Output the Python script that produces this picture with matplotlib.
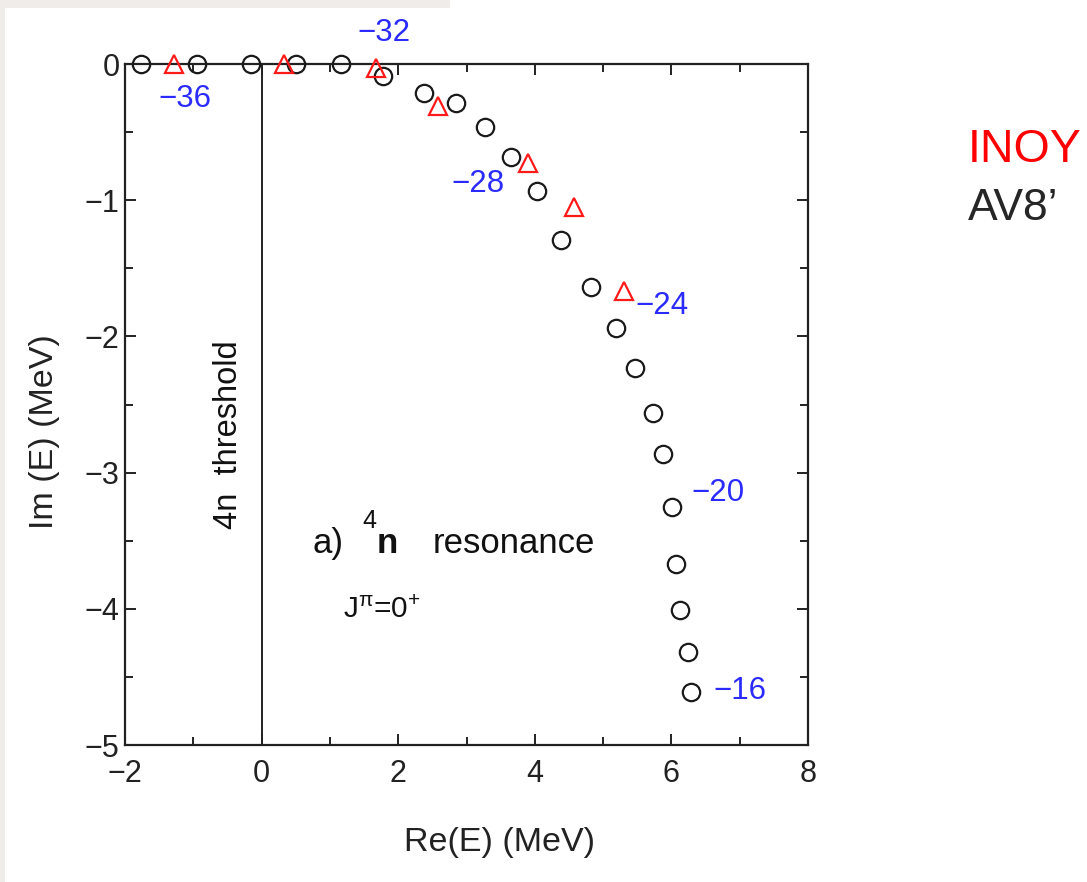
import matplotlib
matplotlib.use("Agg")
import matplotlib.pyplot as plt
from matplotlib.patches import Rectangle
from matplotlib.ticker import MultipleLocator

plt.rcParams['font.family'] = ['Liberation Sans', 'DejaVu Sans']
plt.rcParams['mathtext.fontset'] = 'custom'
plt.rcParams['mathtext.rm'] = 'Liberation Sans'
plt.rcParams['mathtext.it'] = 'Liberation Sans'
plt.rcParams['mathtext.bf'] = 'Liberation Sans:bold'

# AV8' results (black circles)
av8_re = [-1.77, -0.95, -0.16, 0.50, 1.16, 1.78, 2.38, 2.85, 3.27, 3.65, 4.03,
          4.38, 4.82, 5.19, 5.47, 5.73, 5.88, 6.01, 6.07, 6.13, 6.24, 6.29]
av8_im = [0.0, 0.0, 0.0, 0.0, 0.0, -0.09, -0.21, -0.29, -0.46, -0.68, -0.93,
          -1.29, -1.64, -1.94, -2.23, -2.56, -2.86, -3.25, -3.67, -4.01, -4.32, -4.61]

# INOY results (red triangles)
inoy_re = [-1.28, 0.33, 1.67, 2.59, 3.90, 4.57, 5.31]
inoy_im = [0.0, 0.0, -0.03, -0.31, -0.73, -1.05, -1.67]

# Strength labels
lab_text = ["\u221236", "\u221232", "\u221228", "\u221224", "\u221220", "\u221216"]
lab_x = [-1.12, 1.79, 3.17, 5.86, 6.68, 7.00]
lab_y = [-0.26, 0.23, -0.88, -1.78, -3.15, -4.60]

xticks = [-2, 0, 2, 4, 6, 8]
yticks = [0, -1, -2, -3, -4, -5]

fig = plt.figure(figsize=(10.87, 8.82), dpi=100)
# light gray background strips of the source screenshot
fig.patches.append(Rectangle((0, 0), 5 / 1087, 1, transform=fig.transFigure,
                             facecolor='#f0ecea', edgecolor='none', zorder=-10))
fig.patches.append(Rectangle((0, 1 - 8 / 882), 450 / 1087, 8 / 882, transform=fig.transFigure,
                             facecolor='#f0ecea', edgecolor='none', zorder=-10))

ax = fig.add_axes([125 / 1087, 1 - 745 / 882, 683 / 1087, 681 / 882])
ax.set_xlim(-2, 8)
ax.set_ylim(-5, 0)

ax.axvline(0, color='#222222', lw=1.4, zorder=1)

ax.plot(av8_re, av8_im, linestyle='none', marker='o', markersize=12.5,
        markerfacecolor='none', markeredgecolor='#1a1a1a', markeredgewidth=1.6,
        clip_on=False, zorder=3)
ax.plot(inoy_re, inoy_im, linestyle='none', marker='^', markersize=13,
        markerfacecolor='none', markeredgecolor='#ff1a1a', markeredgewidth=1.6,
        clip_on=False, zorder=4)

for t, x, y in zip(lab_text, lab_x, lab_y):
    ax.text(x, y, t, color='#2b2bff', fontsize=22.5, ha='center', va='center',
            clip_on=False)

ax.text(-0.49, -2.72, "4n  threshold", rotation=90, fontsize=23.5,
        ha='center', va='center', color='#111111')

ax.text(0.75, -3.59, "a)", fontsize=25, ha='left', va='baseline', color='#111111')
ax.text(1.47, -3.41, "4", fontsize=18, ha='left', va='baseline', color='#111111')
ax.text(1.69, -3.59, "n", fontsize=25, fontweight='bold', ha='left', va='baseline',
        color='#111111')
ax.text(2.50, -3.59, "resonance", fontsize=25, ha='left', va='baseline', color='#111111')
ax.text(1.19, -4.07, r"J$^{\pi}$=0$^{+}$", fontsize=21.5, ha='left', va='baseline',
        color='#111111')

ax.set_xticks(xticks)
ax.set_yticks(yticks)
ax.set_xticklabels([str(v).replace('-', '\u2212') for v in xticks])
ax.set_yticklabels([str(v).replace('-', '\u2212') for v in yticks])
ax.xaxis.set_minor_locator(MultipleLocator(1))
ax.yaxis.set_minor_locator(MultipleLocator(0.5))
ax.tick_params(which='both', direction='in', top=True, right=True,
               color='#222222', width=1.4)
ax.tick_params(which='major', length=8, labelsize=22, labelcolor='#222222')
ax.tick_params(which='minor', length=6)
ax.tick_params(axis='x', which='major', pad=10)
ax.tick_params(axis='y', which='major', pad=4)
for s in ax.spines.values():
    s.set_linewidth(1.6)
    s.set_color('#222222')

ax.set_xlabel("Re(E) (MeV)", fontsize=24.5, color='#222222')
ax.xaxis.label.set_va('center')
ax.xaxis.set_label_coords((499 - 125) / 683, (745 - 843) / 681)
ax.set_ylabel("Im (E) (MeV)", fontsize=24.5, color='#222222')
ax.yaxis.label.set_va('center')
ax.yaxis.set_label_coords((45 - 125) / 683, (745 - 432) / 681)

fig.text(968 / 1087, 1 - 150 / 882, "INOY", color='#ff0000', fontsize=33.5,
         ha='left', va='center')
fig.text(968 / 1087, 1 - 208 / 882, "AV8\u2019", color='#262626', fontsize=32,
         ha='left', va='center')

fig.savefig("out.png", dpi=100, facecolor='white')
